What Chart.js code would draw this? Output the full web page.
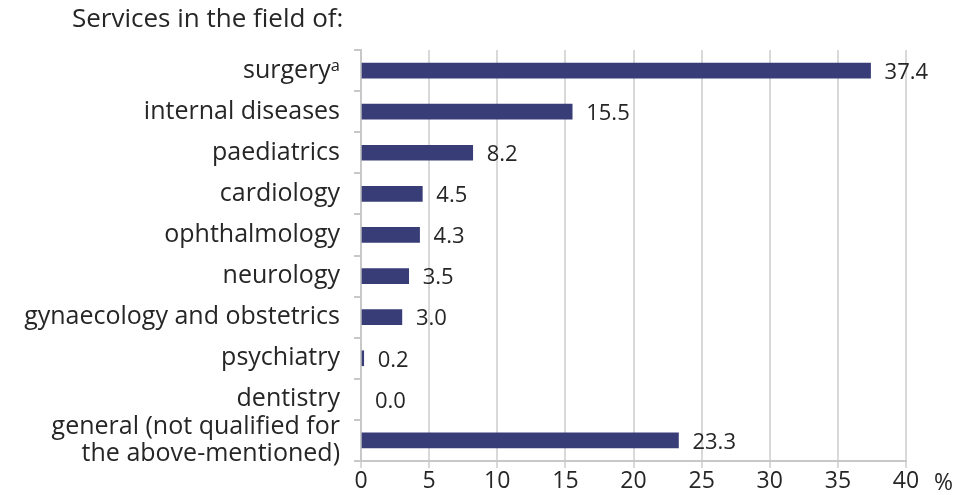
<!DOCTYPE html>
<html>
<head>
<meta charset="utf-8">
<script src="https://cdn.jsdelivr.net/npm/chart.js@4.4.0/dist/chart.umd.min.js"></script>
<style>
  html, body { margin: 0; padding: 0; background: #ffffff; }
  #wrap { width: 958px; height: 495px; position: relative; }
</style>
</head>
<body>
<div id="wrap"><canvas id="barChart"></canvas></div>
<script>
// services by field, share in %

var categories = [
    "surgery\u1d43",
    "internal diseases",
    "paediatrics",
    "cardiology",
    "ophthalmology",
    "neurology",
    "gynaecology and obstetrics",
    "psychiatry",
    "dentistry",
    ["general (not qualified for", "the above-mentioned)"]
];

var shares = [37.4, 15.5, 8.2, 4.5, 4.3, 3.5, 3.0, 0.2, 0.0, 23.3];

var xTicks = [0, 5, 10, 15, 20, 25, 30, 35, 40];

var FONT = "'Open Sans', 'Noto Sans', sans-serif";
var TEXT = "#262626";

// title, "%" unit and value labels
var extras = {
    id: "extras",
    afterDraw: function (chart) {
        var ctx = chart.ctx;
        ctx.save();
        ctx.fillStyle = TEXT;
        ctx.font = "26px " + FONT;
        ctx.textBaseline = "middle";
        ctx.textAlign = "left";
        ctx.fillText("Services in the field of:", 72, 20);

        var x = chart.scales.x;
        ctx.font = "23px " + FONT;
        ctx.fillText("%", x.getPixelForValue(40) + 28, 483);

        var meta = chart.getDatasetMeta(0);
        ctx.font = "22px " + FONT;
        meta.data.forEach(function (bar, i) {
            ctx.fillText(shares[i].toFixed(1), bar.x + 14, bar.y + 2);
        });
        ctx.restore();
    }
};

var bar = document.getElementById("barChart");

new Chart(bar, {
    type: "bar",
    data: {
        labels: categories,
        datasets: [
            {
                label: "Share",
                data: shares,
                backgroundColor: function (c) {
                    return c.raw === 0 ? "rgba(0,0,0,0)" : "#383d78";
                },
                barThickness: 15
            }
        ]
    },
    options: {
        indexAxis: "y",
        responsive: true,
        maintainAspectRatio: false,
        animation: false,
        layout: { padding: { top: 50, right: 52, left: 0, bottom: 0 } },
        plugins: {
            legend: { display: false },
            tooltip: { enabled: false }
        },
        scales: {
            x: {
                min: 0,
                max: 40,
                afterBuildTicks: function (axis) {
                    axis.ticks = xTicks.map(function (v) { return { value: v }; });
                },
                afterFit: function (axis) { axis.height = 34; },
                grid: { color: "#d9d9d9", lineWidth: 2, tickLength: 7 },
                border: { color: "#c8c8c8", width: 2 },
                ticks: { color: TEXT, font: { size: 23, family: FONT }, padding: 0 }
            },
            y: {
                afterFit: function (axis) { axis.width = 361; },
                grid: { offset: true, drawOnChartArea: false, color: "#c8c8c8", lineWidth: 2, tickLength: 7 },
                border: { color: "#c8c8c8", width: 2 },
                ticks: {
                    autoSkip: false,
                    color: TEXT,
                    font: { size: 25, family: FONT, lineHeight: 1.08 },
                    padding: 14
                }
            }
        }
    },
    plugins: [extras]
});
</script>
</body>
</html>
